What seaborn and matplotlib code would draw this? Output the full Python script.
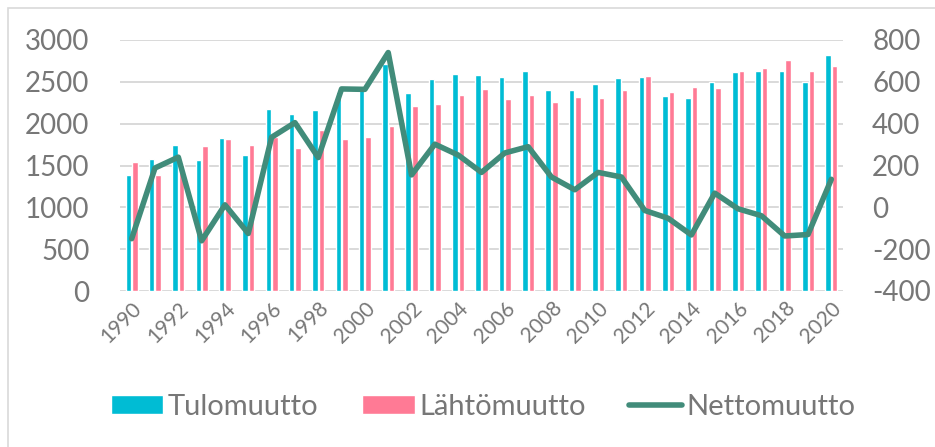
import numpy as np
import pandas as pd
import matplotlib
matplotlib.use("Agg")
import matplotlib.pyplot as plt
import seaborn as sns
from matplotlib.patches import Rectangle

years = list(range(1990, 2021))
tulomuutto = [1390, 1580, 1750, 1570, 1830, 1620, 2180, 2110, 2160, 2380, 2400, 2715,
              2370, 2530, 2595, 2585, 2555, 2630, 2400, 2400, 2470, 2545, 2555, 2325,
              2310, 2500, 2615, 2625, 2625, 2495, 2825]
lahtomuutto = [1540, 1390, 1510, 1730, 1820, 1745, 1845, 1705, 1920, 1815, 1840, 1975,
               2215, 2235, 2345, 2415, 2295, 2345, 2255, 2315, 2305, 2400, 2570, 2380,
               2440, 2430, 2625, 2660, 2760, 2625, 2690]
nettomuutto = [-150, 188, 240, -160, 12, -125, 335, 405, 238, 566, 564, 740,
               155, 302, 250, 167, 260, 290, 145, 84, 167, 145, -15, -52,
               -132, 68, -7, -40, -137, -130, 134]
xtick_labels = [str(y) for y in years[::2]]

series_names = ["Tulomuutto", "Lähtömuutto", "Nettomuutto"]
colors = {"Tulomuutto": "#00BCD4", "Lähtömuutto": "#FF7A95"}
line_color = "#418C7A"
text_color = "#777777"
grid_color = "#D9D9D9"

df_bars = pd.DataFrame({
    "Vuosi": [str(y) for y in years] * 2,
    "Arvo": tulomuutto + lahtomuutto,
    "Sarja": [series_names[0]] * len(years) + [series_names[1]] * len(years),
})
df_line = pd.DataFrame({"pos": np.arange(len(years)), "Netto": nettomuutto})

sns.set_theme(style="white")
plt.rcParams["font.family"] = ["Lato", "DejaVu Sans"]
plt.rcParams["axes.unicode_minus"] = False

W, H = 935, 447
fig = plt.figure(figsize=(W / 100, H / 100), dpi=100)
ax = fig.add_axes([120 / W, 1 - 291 / H, (843 - 120) / W, (291 - 40) / H])

sns.barplot(data=df_bars, x="Vuosi", y="Arvo", hue="Sarja", palette=colors,
            width=0.56, gap=0.15, ax=ax, saturation=1, legend=True)
ax.set_xlim(-0.5, len(years) - 0.5)
ax.set_ylim(0, 3000)
ax.set_yticks(np.arange(0, 3001, 500))
ax.yaxis.grid(True, color=grid_color, linewidth=1.4)
ax.set_axisbelow(True)
for s in ax.spines.values():
    s.set_visible(False)
ax.set_xlabel("")
ax.set_ylabel("")
ax.set_xticks(np.arange(0, len(years), 2))
ax.set_xticklabels(xtick_labels, rotation=45, ha="right", rotation_mode="anchor")
ax.tick_params(axis="x", length=0, pad=5, labelsize=15, labelcolor=text_color)
ax.tick_params(axis="y", length=0, pad=22, labelsize=20, labelcolor=text_color)

ax2 = ax.twinx()
sns.lineplot(data=df_line, x="pos", y="Netto", color=line_color, linewidth=4.0,
             ax=ax2, label=series_names[2], legend=False)
for ln in ax2.lines:
    ln.set_solid_joinstyle("round")
    ln.set_solid_capstyle("round")
ax2.set_ylim(-400, 800)
rticks = np.arange(-400, 801, 200)
ax2.set_yticks(rticks)
ax2.set_yticklabels([str(int(v)) for v in rticks])
ax2.grid(False)
for s in ax2.spines.values():
    s.set_visible(False)
ax2.set_xlabel("")
ax2.set_ylabel("")
ax2.tick_params(axis="y", length=0, pad=21, labelsize=20, labelcolor=text_color)
for t in ax2.get_yticklabels():
    t.set_horizontalalignment("left")
ax.set_xlim(-0.5, len(years) - 0.5)

h1, l1 = ax.get_legend_handles_labels()
if ax.get_legend() is not None:
    ax.get_legend().remove()
h2, l2 = ax2.get_legend_handles_labels()
for h in h2:
    h.set_solid_capstyle("round")
leg = fig.legend(h1 + h2, l1 + l2, loc="center", bbox_to_anchor=(483 / W, 1 - 407 / H),
                 ncol=3, frameon=False, fontsize=21, handlelength=1.8, handleheight=0.62,
                 handletextpad=0.15, columnspacing=1.5)
for t in leg.get_texts():
    t.set_color(text_color)

fig.patches.append(Rectangle((8 / W, -0.1), 1.2, 1 - 8 / H + 0.1, transform=fig.transFigure,
                             fill=False, edgecolor="#D9D9D9", linewidth=1.2, zorder=0))

fig.savefig("out.png", dpi=100)
